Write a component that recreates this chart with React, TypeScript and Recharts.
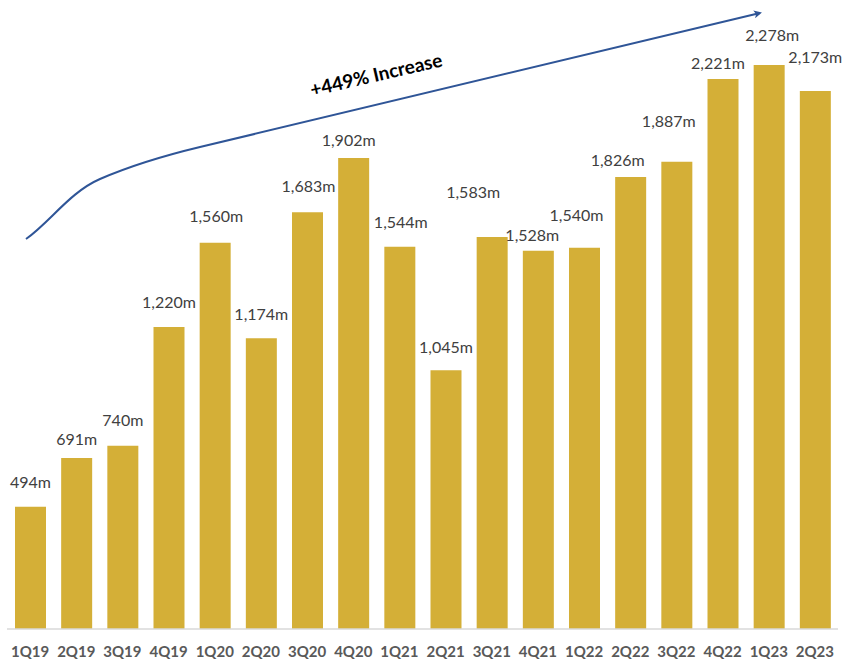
import React from "react";
import { BarChart, Bar, XAxis, YAxis, LabelList } from "recharts";

const quarters = [
  "1Q19", "2Q19", "3Q19", "4Q19", "1Q20", "2Q20", "3Q20", "4Q20", "1Q21",
  "2Q21", "3Q21", "4Q21", "1Q22", "2Q22", "3Q22", "4Q22", "1Q23", "2Q23",
];

const volumes = [
  494, 691, 740, 1220, 1560, 1174, 1683, 1902, 1544,
  1045, 1583, 1528, 1540, 1826, 1887, 2221, 2278, 2173,
];

// label nudges [dx, lift above bar top] copied from the hand-placed labels
const labelNudge: [number, number][] = [
  [0, 25], [0, 19], [0, 26], [0, 25], [1, 27], [0, 25], [1, 27], [-5, 19], [1, 25],
  [0, 24], [-19, 46], [-6, 16], [-8, 33], [-13, 17], [-8, 41], [-5, 17], [3, 30], [0, 34],
];

const GOLD = "#D4AF37";
const ARROW = "#2F5597";

const data = quarters.map((q, i) => ({ quarter: q, volume: volumes[i] }));

const fmt = (v: number) => v.toLocaleString("en-US") + "m";

function BarLabel(props: any) {
  const { x, y, width, value, index } = props;
  const [dx, lift] = labelNudge[index] ?? [0, 25];
  return (
    <text
      x={x + width / 2 + dx}
      y={y - lift}
      textAnchor="middle"
      dominantBaseline="central"
      fill="#404040"
      fontSize={16}
      fontFamily="Lato, sans-serif"
    >
      {fmt(value)}
    </text>
  );
}

export default function App() {
  return (
    <div style={{ position: "absolute", left: 0, top: 0, width: 845, height: 664, background: "#fff", overflow: "hidden" }}>
      <BarChart
        width={845}
        height={664}
        data={data}
        margin={{ top: 10, right: 7, bottom: 0, left: 7 }}
        style={{ overflow: "visible" }}
      >
        <XAxis
          dataKey="quarter"
          height={35}
          tickLine={false}
          tickSize={0}
          tickMargin={17}
          axisLine={{ stroke: "#D9D9D9", strokeWidth: 1.5 }}
          tick={{ fill: "#595959", fontSize: 15, fontWeight: 700, fontFamily: "Lato, sans-serif" }}
          interval={0}
        />
        <YAxis hide domain={[0, 2500]} />
        <Bar dataKey="volume" fill={GOLD} barSize={31} isAnimationActive={false}>
          <LabelList dataKey="volume" content={BarLabel} />
        </Bar>
      </BarChart>
      <svg
        width={845}
        height={664}
        style={{ position: "absolute", left: 0, top: 0, pointerEvents: "none" }}
      >
        <defs>
          <marker id="head" markerWidth="8" markerHeight="8" refX="6" refY="4" orient="auto" markerUnits="userSpaceOnUse">
            <path d="M0,0 L8,4 L0,8 L2,4 Z" fill={ARROW} />
          </marker>
        </defs>
        <path
          d="M26,239 C50,222 70,192 100,179 C130,166 165,155.4 200,147 L760,13"
          fill="none"
          stroke={ARROW}
          strokeWidth={2}
          markerEnd="url(#head)"
        />
        <text
          x={376}
          y={74}
          textAnchor="middle"
          dominantBaseline="central"
          fontSize={19}
          fontWeight={700}
          fontFamily="Lato, sans-serif"
          fill="#000"
          transform="rotate(-13 376 74)"
        >
          +449% Increase
        </text>
      </svg>
    </div>
  );
}
